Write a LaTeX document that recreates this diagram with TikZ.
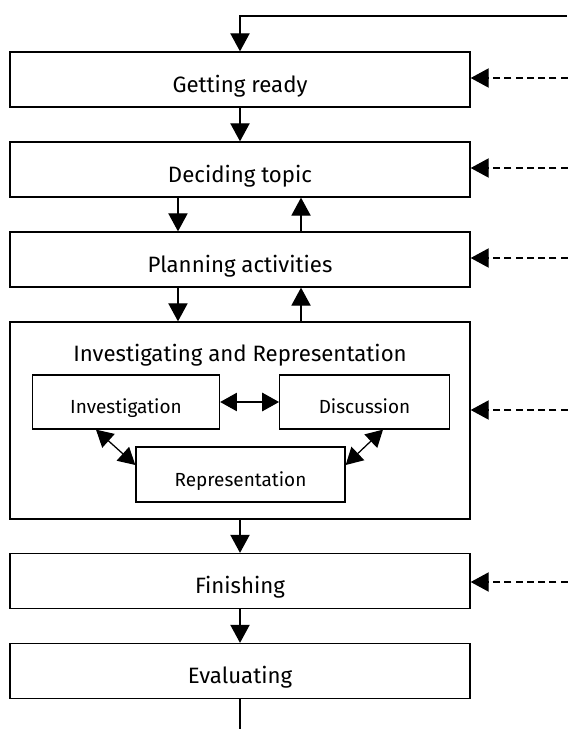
\documentclass[tikz,border=0pt]{standalone}
\usepackage{fontspec}
\setmainfont{Fira Sans}
\usepackage{xcolor}
\usetikzlibrary{arrows.meta,calc}
\tikzset{
    stage/.style={draw,line width=0.9pt,minimum width=11.5cm,minimum height=1.375cm,
        text height=18pt,text depth=0pt,font=\fontsize{15.8}{18}\selectfont},
    part/.style={draw,line width=0.9pt,minimum height=1.35cm,
        text height=16.5pt,text depth=0pt,font=\fontsize{13.5}{15}\selectfont},
    arr/.style={line width=0.9pt,-{Triangle[length=0.45cm,width=0.48cm]}},
    darr/.style={arr,dash pattern=on 5pt off 3pt}
}

\begin{document}
\begin{tikzpicture}[x=0.025cm,y=-0.025cm]
            \useasboundingbox (0,0) rectangle (567,729);

            \node[stage] (ready) at (240,79.5) {Getting ready};
            \node[stage] (topic) at (240,169.5) {Deciding topic};
            \node[stage] (plan) at (240,259.5) {Planning activities};
            \node[stage,minimum height=4.925cm] (invrep) at (240,420.5) {};
            \node[font=\fontsize{15.8}{18}\selectfont] (title) at (240,355) {Investigating and Representation};
            \node[part,minimum width=4.675cm] (inv) at (126,402) {Investigation};
            \node[part,minimum width=4.24cm] (disc) at (364.5,402) {Discussion};
            \node[part,minimum width=5.225cm,minimum height=1.375cm] (rep) at (240.5,474.5) {Representation};
            \node[stage] (finish) at (240,581) {Finishing};
            \node[stage] (eval) at (240,671) {Evaluating};

            \coordinate (loopin) at (567,16);
            \draw[arr] (loopin) -| (ready.north);
            \draw[arr] (ready) -- (topic);
            \draw[arr] ([xshift=-1.55cm]topic.south) -- ([xshift=-1.55cm]plan.north);
            \draw[arr] ([xshift=1.525cm]plan.north) -- ([xshift=1.525cm]topic.south);
            \draw[arr] ([xshift=-1.55cm]plan.south) -- ([xshift=-1.55cm]invrep.north);
            \draw[arr] ([xshift=1.525cm]invrep.north) -- ([xshift=1.525cm]plan.south);
            \draw[arr] (invrep) -- (finish);
            \draw[arr] (finish) -- (eval);
            \draw[line width=0.9pt] (eval.south) -- ++(0,31);

            \draw[arr,{Triangle[length=0.42cm,width=0.46cm]}-{Triangle[length=0.42cm,width=0.46cm]}] (inv) -- (disc);
            \draw[arr,{Triangle[length=0.42cm,width=0.46cm]}-{Triangle[length=0.42cm,width=0.46cm]}] ($(inv.south)+(-30,0)$) -- ($(rep.west)+(0,-9.5)$);
            \draw[arr,{Triangle[length=0.42cm,width=0.46cm]}-{Triangle[length=0.42cm,width=0.46cm]}] ($(disc.south)+(18.5,0)$) -- ($(rep.east)+(0,-9.5)$);

            \foreach \n/\dy in {ready/-1.5,topic/-1.5,plan/-1.5,invrep/-10.5,finish/1}
                \draw[darr] ($(\n.east)+(97,\dy)$) -- ($(\n.east)+(0,\dy)$);
\end{tikzpicture}
\end{document}
